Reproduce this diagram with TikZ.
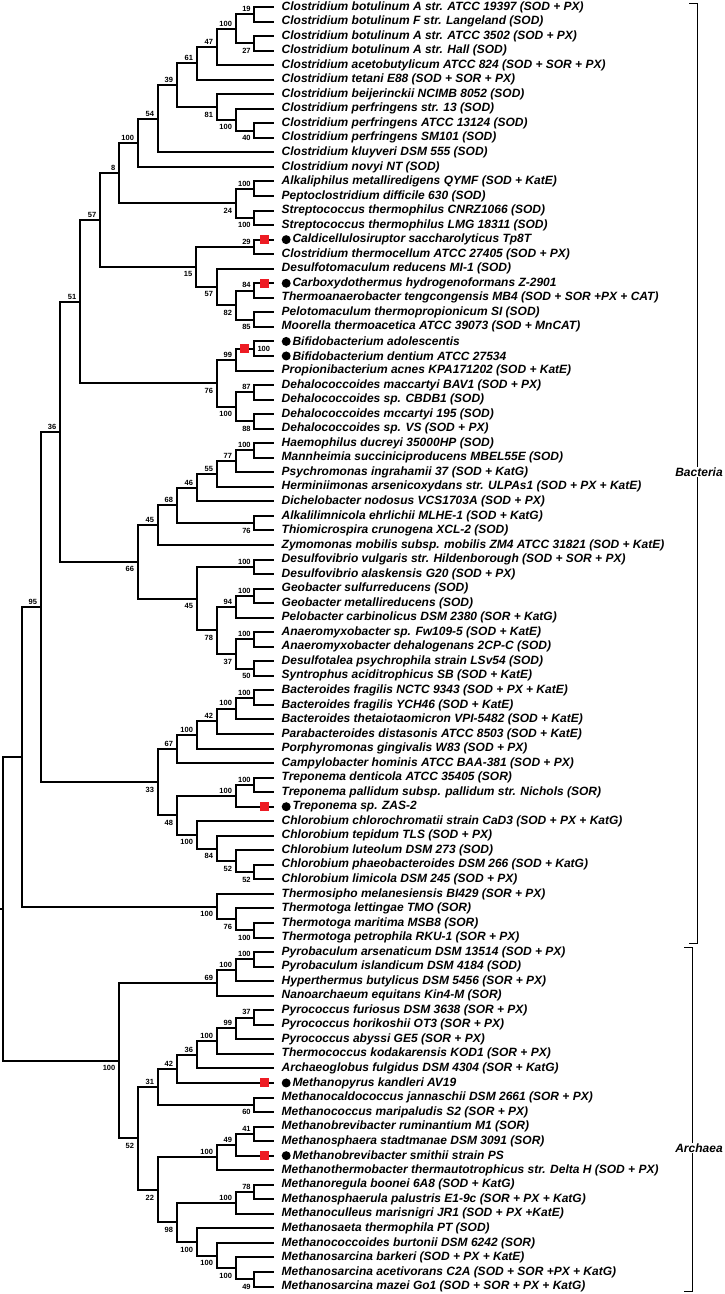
\documentclass[tikz,border=0pt]{standalone}
\usepackage{fontspec}
\setmainfont{Liberation Sans}
\definecolor{mkred}{RGB}{237,28,36}
\tikzset{
  br/.style={draw=black, line width=2pt, line join=miter},
  bs/.style={font=\fontsize{7.5}{8}\selectfont\bfseries, inner sep=0pt},
  bsa/.style={bs, anchor=south east},
  bsb/.style={bs, anchor=north east},
  leaf/.style={font=\fontsize{12}{14}\selectfont\bfseries\itshape, anchor=west, inner sep=0pt},
  dotmark/.style={circle, fill=black, minimum size=9pt, inner sep=0pt},
  sqmark/.style={rectangle, fill=mkred, minimum size=9pt, inner sep=0pt},
  grp/.style={font=\fontsize{12}{14}\selectfont\bfseries\itshape, fill=white, inner sep=1pt},
  brk/.style={draw=black, line width=0.9pt}
}
\begin{document}
\begin{tikzpicture}[x=1pt,y=-1pt]
\useasboundingbox (0,0) rectangle (725,1294);
\fill[white] (0,0) rectangle (725,1294);
\begin{scope}[yshift=-7pt, x=1pt, y=-14.54pt]
% ---------- leaves ----------
\foreach \k/\t in {
0/Clostridium botulinum A str. ATCC 19397 (SOD + PX),
1/Clostridium botulinum F str. Langeland (SOD),
2/Clostridium botulinum A str. ATCC 3502 (SOD + PX),
3/Clostridium botulinum A str. Hall (SOD),
4/Clostridium acetobutylicum ATCC 824 (SOD + SOR + PX),
5/Clostridium tetani E88 (SOD + SOR + PX),
6/Clostridium beijerinckii NCIMB 8052 (SOD),
7/Clostridium perfringens str. 13 (SOD),
8/Clostridium perfringens ATCC 13124 (SOD),
9/Clostridium perfringens SM101 (SOD),
10/Clostridium kluyveri DSM 555 (SOD),
11/Clostridium novyi NT (SOD),
12/Alkaliphilus metalliredigens QYMF (SOD + KatE),
13/Peptoclostridium difficile 630 (SOD),
14/Streptococcus thermophilus CNRZ1066 (SOD),
15/Streptococcus thermophilus LMG 18311 (SOD),
17/Clostridium thermocellum ATCC 27405 (SOD + PX),
18/Desulfotomaculum reducens MI-1 (SOD),
20/Thermoanaerobacter tengcongensis MB4 (SOD + SOR +PX + CAT),
21/Pelotomaculum thermopropionicum SI (SOD),
22/Moorella thermoacetica ATCC 39073 (SOD + MnCAT),
25/Propionibacterium acnes KPA171202 (SOD + KatE),
26/Dehalococcoides maccartyi BAV1 (SOD + PX),
27/Dehalococcoides sp. CBDB1 (SOD),
28/Dehalococcoides mccartyi 195 (SOD),
29/Dehalococcoides sp. VS (SOD + PX),
30/Haemophilus ducreyi 35000HP (SOD),
31/Mannheimia succiniciproducens MBEL55E (SOD),
32/Psychromonas ingrahamii 37 (SOD + KatG),
33/Herminiimonas arsenicoxydans str. ULPAs1 (SOD + PX + KatE),
34/Dichelobacter nodosus VCS1703A (SOD + PX),
35/Alkalilimnicola ehrlichii MLHE-1 (SOD + KatG),
36/Thiomicrospira crunogena XCL-2 (SOD),
37/Zymomonas mobilis subsp. mobilis ZM4 ATCC 31821 (SOD + KatE),
38/Desulfovibrio vulgaris str. Hildenborough (SOD + SOR + PX),
39/Desulfovibrio alaskensis G20 (SOD + PX),
40/Geobacter sulfurreducens (SOD),
41/Geobacter metallireducens (SOD),
42/Pelobacter carbinolicus DSM 2380 (SOR + KatG),
43/Anaeromyxobacter sp. Fw109-5 (SOD + KatE),
44/Anaeromyxobacter dehalogenans 2CP-C (SOD),
45/Desulfotalea psychrophila strain LSv54 (SOD),
46/Syntrophus aciditrophicus SB (SOD + KatE),
47/Bacteroides fragilis NCTC 9343 (SOD + PX + KatE),
48/Bacteroides fragilis YCH46 (SOD + KatE),
49/Bacteroides thetaiotaomicron VPI-5482 (SOD + KatE),
50/Parabacteroides distasonis ATCC 8503 (SOD + KatE),
51/Porphyromonas gingivalis W83 (SOD + PX),
52/Campylobacter hominis ATCC BAA-381 (SOD + PX),
53/Treponema denticola ATCC 35405 (SOR),
54/Treponema pallidum subsp. pallidum str. Nichols (SOR),
56/Chlorobium chlorochromatii strain CaD3 (SOD + PX + KatG),
57/Chlorobium tepidum TLS (SOD + PX),
58/Chlorobium luteolum DSM 273 (SOD),
59/Chlorobium phaeobacteroides DSM 266 (SOD + KatG),
60/Chlorobium limicola DSM 245 (SOD + PX),
61/Thermosipho melanesiensis BI429 (SOR + PX),
62/Thermotoga lettingae TMO (SOR),
63/Thermotoga maritima MSB8 (SOR),
64/Thermotoga petrophila RKU-1 (SOR + PX),
65/Pyrobaculum arsenaticum DSM 13514 (SOD + PX),
66/Pyrobaculum islandicum DSM 4184 (SOD),
67/Hyperthermus butylicus DSM 5456 (SOR + PX),
68/Nanoarchaeum equitans Kin4-M (SOR),
69/Pyrococcus furiosus DSM 3638 (SOR + PX),
70/Pyrococcus horikoshii OT3 (SOR + PX),
71/Pyrococcus abyssi GE5 (SOR + PX),
72/Thermococcus kodakarensis KOD1 (SOR + PX),
73/Archaeoglobus fulgidus DSM 4304 (SOR + KatG),
75/Methanocaldococcus jannaschii DSM 2661 (SOR + PX),
76/Methanococcus maripaludis S2 (SOR + PX),
77/Methanobrevibacter ruminantium M1 (SOR),
78/Methanosphaera stadtmanae DSM 3091 (SOR),
80/Methanothermobacter thermautotrophicus str. Delta H (SOD + PX),
81/Methanoregula boonei 6A8 (SOD + KatG),
82/Methanosphaerula palustris E1-9c (SOR + PX + KatG),
83/Methanoculleus marisnigri JR1 (SOD + PX +KatE),
84/Methanosaeta thermophila PT (SOD),
85/Methanococcoides burtonii DSM 6242 (SOR),
86/Methanosarcina barkeri (SOD + PX + KatE),
87/Methanosarcina acetivorans C2A (SOD + SOR +PX + KatG),
88/Methanosarcina mazei Go1 (SOD + SOR + PX + KatG)}
{
  \coordinate (t\k) at (274,\k);
  \node[leaf] (L\k) at (281.5,\k) {\t};
}
% leaves with a dot
\foreach \k/\t in {
16/Caldicellulosiruptor saccharolyticus Tp8T,
19/Carboxydothermus hydrogenoformans Z-2901,
23/Bifidobacterium adolescentis,
24/Bifidobacterium dentium ATCC 27534,
55/Treponema sp. ZAS-2,
74/Methanopyrus kandleri AV19,
79/Methanobrevibacter smithii strain PS}
{
  \coordinate (t\k) at (274,\k);
  \node[dotmark] (d\k) at (286.2,\k) {};
  \node[leaf] (L\k) at (292.3,\k) {\t};
}
% ---------- internal nodes ----------
\coordinate (n19) at (254.3,0.5);
\coordinate (n27) at (254.3,2.5);
\coordinate (nA) at (235.7,1.5);
\coordinate (n47) at (216.7,2.75);
\coordinate (n61) at (196.7,3.875);
\coordinate (n40) at (254.3,8.5);
\coordinate (nB) at (235.7,7.75);
\coordinate (n81) at (216.7,6.875);
\coordinate (n39) at (176.7,5.375);
\coordinate (n54) at (157.7,7.6875);
\coordinate (nC) at (137.7,9.34375);
\coordinate (nD) at (254.3,12.5);
\coordinate (nE) at (254.3,14.5);
\coordinate (n24) at (235.7,13.5);
\coordinate (n8) at (119,11.421875);
\coordinate (n29) at (254.3,16.5);
\coordinate (n84) at (254.3,19.5);
\coordinate (n85) at (254.3,21.5);
\coordinate (n82) at (235.7,20.5);
\coordinate (n57b) at (216.7,19.25);
\coordinate (n15) at (196,17.875);
\coordinate (n57) at (100,14.6484);
\coordinate (nF) at (254.3,23.5);
\coordinate (n99) at (235.7,24.25);
\coordinate (n87) at (254.3,26.5);
\coordinate (n88) at (254.3,28.5);
\coordinate (nG) at (235.7,27.5);
\coordinate (n76) at (216.7,25.875);
\coordinate (n51) at (80,20.2617);
\coordinate (nH) at (254.3,30.5);
\coordinate (n77) at (235.7,31.25);
\coordinate (n55) at (216.7,32.125);
\coordinate (n46) at (196.7,33.0625);
\coordinate (n76b) at (254.3,35.5);
\coordinate (n68) at (176.7,34.28125);
\coordinate (n45a) at (157.7,35.640625);
\coordinate (nI) at (254.3,38.5);
\coordinate (nJ) at (254.3,40.5);
\coordinate (n94) at (235.7,41.25);
\coordinate (nK) at (254.3,43.5);
\coordinate (n50) at (254.3,45.5);
\coordinate (n37) at (235.7,44.5);
\coordinate (n78) at (216.7,42.875);
\coordinate (n45b) at (196.7,40.6875);
\coordinate (n66) at (137.7,38.1640625);
\coordinate (n36) at (60,29.2129);
\coordinate (nL) at (254.3,47.5);
\coordinate (nM) at (235.7,48.25);
\coordinate (n42) at (216.7,49.125);
\coordinate (nN) at (196.7,50.0625);
\coordinate (n67) at (176.7,51.03125);
\coordinate (nO) at (254.3,53.5);
\coordinate (nP) at (235.7,54.25);
\coordinate (n52b) at (254.3,59.5);
\coordinate (n52a) at (235.7,58.75);
\coordinate (n84b) at (216.7,57.875);
\coordinate (nQ) at (196.7,56.9375);
\coordinate (n48) at (176.7,55.59375);
\coordinate (n33) at (157.7,53.3125);
\coordinate (n95) at (40.7,41.2627);
\coordinate (nR) at (254.3,63.5);
\coordinate (n76c) at (235.7,62.75);
\coordinate (nS) at (216.7,61.875);
\coordinate (nBac) at (21.7,51.5688);
\coordinate (nT) at (254.3,65.5);
\coordinate (nU) at (235.7,66.25);
\coordinate (n69) at (216.7,67.125);
\coordinate (n37a) at (254.3,69.5);
\coordinate (n99a) at (235.7,70.25);
\coordinate (nV) at (216.7,71.125);
\coordinate (n36a) at (196.7,72.0625);
\coordinate (n42a) at (176.7,73.03125);
\coordinate (n60) at (254.3,75.5);
\coordinate (n31) at (157.7,74.265625);
\coordinate (n41) at (254.3,77.5);
\coordinate (n49) at (235.7,78.25);
\coordinate (nW) at (216.7,79.125);
\coordinate (n78a) at (254.3,81.5);
\coordinate (nX) at (235.7,82.25);
\coordinate (n49b) at (254.3,87.5);
\coordinate (nY) at (235.7,86.75);
\coordinate (nZ) at (216.7,85.875);
\coordinate (nAA) at (196.7,84.9375);
\coordinate (n98) at (176.7,83.59375);
\coordinate (n22) at (157.7,81.359375);
\coordinate (n52) at (137.7,77.8125);
\coordinate (nArc) at (119,72.46875);
\coordinate (root) at (3,62.0188);
\coordinate (rootstub) at (0,62.0188);
% ---------- branches ----------
\foreach \p/\c in {
n19/t0,n19/t1,n27/t2,n27/t3,nA/n19,nA/n27,n47/nA,n47/t4,n61/n47,n61/t5,
n40/t8,n40/t9,nB/t7,nB/n40,n81/t6,n81/nB,n39/n61,n39/n81,n54/n39,n54/t10,
nC/n54,nC/t11,nD/t12,nD/t13,nE/t14,nE/t15,n24/nD,n24/nE,n8/nC,n8/n24,
n29/t16,n29/t17,n84/t19,n84/t20,n85/t21,n85/t22,n82/n84,n82/n85,n57b/t18,n57b/n82,
n15/n29,n15/n57b,n57/n8,n57/n15,nF/t23,nF/t24,n99/nF,n99/t25,n87/t26,n87/t27,
n88/t28,n88/t29,nG/n87,nG/n88,n76/n99,n76/nG,n51/n57,n51/n76,
nH/t30,nH/t31,n77/nH,n77/t32,n55/n77,n55/t33,n46/n55,n46/t34,n76b/t35,n76b/t36,
n68/n46,n68/n76b,n45a/n68,n45a/t37,nI/t38,nI/t39,nJ/t40,nJ/t41,n94/nJ,n94/t42,
nK/t43,nK/t44,n50/t45,n50/t46,n37/nK,n37/n50,n78/n94,n78/n37,n45b/nI,n45b/n78,
n66/n45a,n66/n45b,n36/n51,n36/n66,
nL/t47,nL/t48,nM/nL,nM/t49,n42/nM,n42/t50,nN/n42,nN/t51,n67/nN,n67/t52,
nO/t53,nO/t54,nP/nO,nP/t55,n52b/t59,n52b/t60,n52a/t58,n52a/n52b,n84b/t57,n84b/n52a,
nQ/t56,nQ/n84b,n48/nP,n48/nQ,n33/n67,n33/n48,n95/n36,n95/n33,
nR/t63,nR/t64,n76c/t62,n76c/nR,nS/t61,nS/n76c,nBac/n95,nBac/nS,
nT/t65,nT/t66,nU/nT,nU/t67,n69/nU,n69/t68,n37a/t69,n37a/t70,n99a/n37a,n99a/t71,
nV/n99a,nV/t72,n36a/nV,n36a/t73,n42a/n36a,n42a/t74,n60/t75,n60/t76,n31/n42a,n31/n60,
n41/t77,n41/t78,n49/n41,n49/t79,nW/n49,nW/t80,n78a/t81,n78a/t82,nX/n78a,nX/t83,
n49b/t87,n49b/t88,nY/t86,nY/n49b,nZ/t85,nZ/nY,nAA/t84,nAA/nZ,n98/nX,n98/nAA,
n22/nW,n22/n98,n52/n31,n52/n22,nArc/n69,nArc/n52,root/nBac,root/nArc}
{ \draw[br] (\p) |- (\c); }
\draw[br] (rootstub) -- (root);
% ---------- red squares ----------
\foreach \k in {16,19,55,74,79} { \node[sqmark] (s\k) at (264,\k) {}; }
\node[sqmark] (sF) at (244.7,23.5) {};
% ---------- bootstrap labels ----------
\foreach \n/\v in {n19/19,nA/100,n47/47,n61/61,n39/39,n54/54,nC/100,n8/8,nD/100,n29/29,
n84/84,n57/57,n99/99,n87/87,n51/51,nH/100,n77/77,n55/55,n46/46,n68/68,n45a/45,nI/100,
nJ/100,n94/94,nK/100,n36/36,nL/100,nM/100,n42/42,nN/100,n67/67,nO/100,nP/100,n95/95,
nT/100,nU/100,n69/69,n37a/37,n99a/99,nV/100,n36a/36,n42a/42,n31/31,n41/41,n49/49,
nW/100,n78a/78,nX/100}
{ \node[bsa] (lab\n) at ([shift={(-3.5pt,2.3pt)}]\n) {\v}; }
\foreach \n/\v in {n27/27,n40/40,nB/100,n81/81,nE/100,n24/24,n85/85,n82/82,n57b/57,n15/15,
n88/88,nG/100,n76/76,n76b/76,n50/50,n37/37,n78/78,n45b/45,n66/66,n52b/52,n52a/52,n84b/84,
nQ/100,n48/48,n33/33,nR/100,n76c/76,nS/100,n60/60,n49b/49,nY/100,nZ/100,nAA/100,n98/98,
n22/22,n52/52,nArc/100}
{ \node[bsb] (lab\n) at ([shift={(-3.5pt,-4.6pt)}]\n) {\v}; }
\node[bs, anchor=west] (labnF) at ([xshift=3pt]nF) {100};
\end{scope}
% ---------- group brackets ----------
\coordinate (bacT) at (689,3);
\coordinate (bacT2) at (697,3);
\coordinate (bacB2) at (697,943);
\coordinate (bacB) at (689,943);
\draw[brk] (bacT) -- (bacT2) -- (bacB2) -- (bacB);
\node[grp] (bac) at (699,472) {Bacteria};
\coordinate (arcT) at (684,947);
\coordinate (arcT2) at (692,947);
\coordinate (arcB2) at (692,1291);
\coordinate (arcB) at (684,1291);
\draw[brk] (arcT) -- (arcT2) -- (arcB2) -- (arcB);
\node[grp] (arc) at (699,1148) {Archaea};
\end{tikzpicture}
\end{document}
